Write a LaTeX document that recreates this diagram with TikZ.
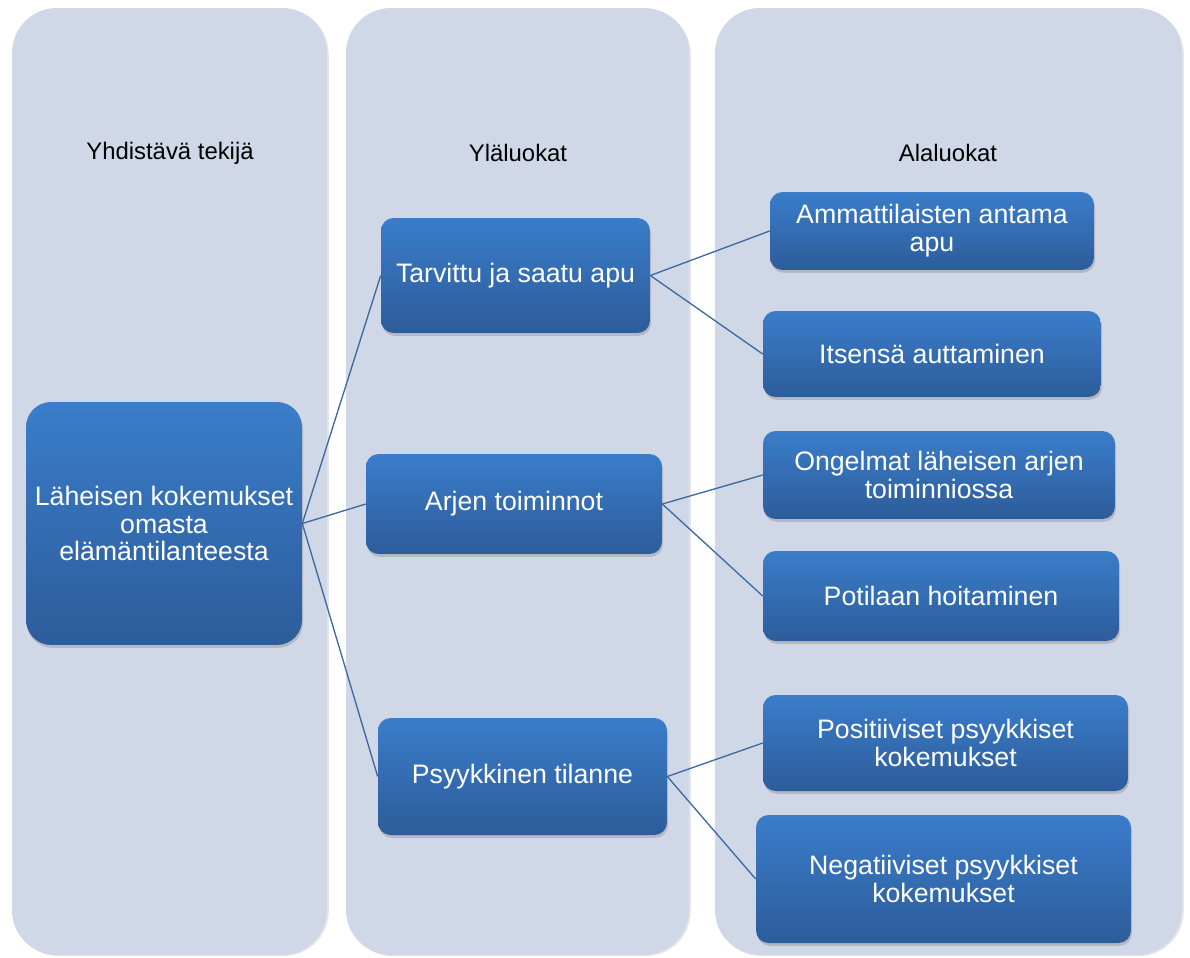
\documentclass[tikz,border=0pt]{standalone}
\usepackage{fontspec}
\setmainfont{Liberation Sans}
\usetikzlibrary{shadows}
\definecolor{colfill}{RGB}{208,215,230}
\definecolor{boxtop}{RGB}{58,125,202}
\definecolor{boxbot}{RGB}{45,92,154}
\definecolor{linkcol}{RGB}{62,104,162}

\begin{document}
\begin{tikzpicture}[x=0.02cm, y=-0.02cm,
col/.style = {% column background
fill=colfill, rounded corners=0.9cm,
drop shadow={opacity=0.2, shadow xshift=1pt, shadow yshift=-0.6pt}},
head/.style = {font=\fontsize{13.6}{16}\selectfont, text=black},
box/.style = {% blue box
rectangle, rounded corners=0.25cm, draw=none, top color=boxtop, bottom color=boxbot,
text=white, align=center, inner sep=1mm, font=\fontsize{15.2}{15.9}\selectfont,
drop shadow={opacity=0.35, shadow xshift=0.6pt, shadow yshift=-1.6pt}},
link/.style = {draw=linkcol, line width=0.75pt}]
\useasboundingbox (0,0) rectangle (1190,957);
% columns
\path[col] (12,8) rectangle (327,955);
\path[col] (346,8) rectangle (689,955);
\path[col] (715,8) rectangle (1182,955);
\node[head] (H1) at (170,153) {Yhdistävä tekijä};
\node[head] (H2) at (518,153) {Yläluokat};
\node[head] (H3) at (948,153) {Alaluokat};
% boxes
\node[box, rounded corners=0.5cm, minimum width=5.52cm, minimum height=4.86cm] (Y) at (164,523.5)
  {Läheisen kokemukset\\omasta\\elämäntilanteesta};
\node[box, minimum width=5.38cm, minimum height=2.3cm] (U-1) at (515.5,275.5) {Tarvittu ja saatu apu};
\node[box, minimum width=5.92cm, minimum height=2.0cm] (U-2) at (514,504) {Arjen toiminnot};
\node[box, minimum width=5.78cm, minimum height=2.34cm] (U-3) at (522.5,776.5) {Psyykkinen tilanne};
\node[box, minimum width=6.48cm, minimum height=1.56cm] (A-1) at (932,231) {Ammattilaisten antama\\apu};
\node[box, minimum width=6.76cm, minimum height=1.72cm] (A-2) at (932,354) {Itsensä auttaminen};
\node[box, minimum width=7.04cm, minimum height=1.76cm] (A-3) at (939,475) {Ongelmat läheisen arjen\\toiminniossa};
\node[box, minimum width=7.12cm, minimum height=1.8cm] (A-4) at (941,596) {Potilaan hoitaminen};
\node[box, minimum width=7.3cm, minimum height=1.92cm] (A-5) at (945.5,743) {Positiiviset psyykkiset\\kokemukset};
\node[box, minimum width=7.5cm, minimum height=2.56cm] (A-6) at (943.5,879) {Negatiiviset psyykkiset\\kokemukset};
% connectors
\foreach \u in {1,2,3} \draw[link] (Y.east) -- (U-\u.west);
\draw[link] (U-1.east) -- (A-1.west);
\draw[link] (U-1.east) -- (A-2.west);
\draw[link] (U-2.east) -- (A-3.west);
\draw[link] (U-2.east) -- (A-4.west);
\draw[link] (U-3.east) -- (A-5.west);
\draw[link] (U-3.east) -- (A-6.west);
\end{tikzpicture}
\end{document}
